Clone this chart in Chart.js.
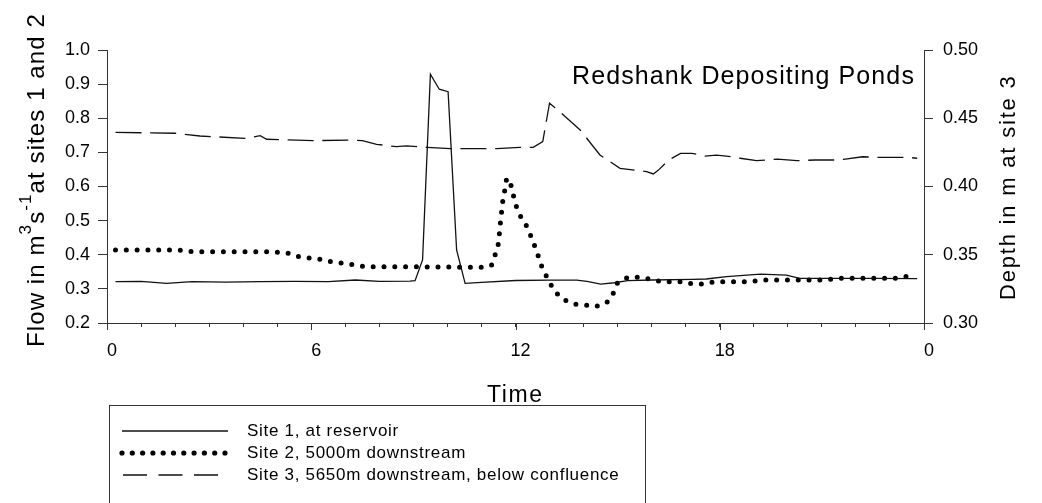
<!DOCTYPE html>
<html>
<head>
<meta charset="utf-8">
<script src="https://cdn.jsdelivr.net/npm/chart.js@4.4.1/dist/chart.umd.min.js"></script>
<style>
  html, body { margin: 0; padding: 0; background: #fff; }
  canvas { display: block; }
</style>
</head>
<body>
<canvas id="c" width="1042" height="503"></canvas>
<script>
// ---------- DATA ----------
const site1Hours = [0.25, 1.0, 1.75, 2.5, 3.5, 4.5, 5.5, 6.5, 7.3, 8.0, 8.9, 9.05, 9.27, 9.5, 9.76, 10.02, 10.27, 10.52, 11.0, 12.0, 13.0, 13.8, 14.1, 14.5, 14.9, 15.3, 16.0, 17.2, 17.6, 18.2, 19.2, 19.96, 20.35, 21.3, 22.5, 23.8];
const site1Flow  = [0.321, 0.322, 0.316, 0.321, 0.320, 0.321, 0.322, 0.321, 0.326, 0.322, 0.323, 0.324, 0.385, 0.929, 0.885, 0.878, 0.414, 0.316, 0.319, 0.3245, 0.3255, 0.3255, 0.322, 0.314, 0.318, 0.324, 0.326, 0.328, 0.329, 0.336, 0.343, 0.3405, 0.331, 0.331, 0.331, 0.330];

const site2Hours = [0.25, 2.1, 2.5, 4.8, 5.34, 5.65, 5.97, 6.3, 6.6, 6.95, 7.25, 7.6, 8.5, 11.1, 11.3, 11.4, 11.5, 11.56, 11.63, 11.69, 11.74, 11.84, 11.92, 11.99, 12.11, 12.31, 12.45, 12.57, 12.69, 12.8, 12.96, 13.13, 13.4, 13.72, 14.03, 14.36, 14.68, 14.87, 15.0, 15.31, 15.6, 15.97, 16.3, 16.9, 17.22, 17.5, 17.86, 18.8, 19.13, 19.4, 21.0, 21.6, 23.2, 23.59];
const site2Flow  = [0.414, 0.414, 0.409, 0.409, 0.404, 0.394, 0.390, 0.386, 0.379, 0.375, 0.371, 0.365, 0.365, 0.363, 0.370, 0.399, 0.433, 0.497, 0.560, 0.592, 0.624, 0.614, 0.582, 0.551, 0.519, 0.487, 0.455, 0.424, 0.390, 0.357, 0.328, 0.295, 0.2695, 0.2557, 0.2527, 0.248, 0.2595, 0.287, 0.319, 0.334, 0.334, 0.328, 0.321, 0.321, 0.314, 0.314, 0.321, 0.321, 0.324, 0.326, 0.326, 0.331, 0.331, 0.339];

const site3Hours = [0.25, 2.0, 2.73, 4.05, 4.5, 4.69, 6.06, 7.08, 7.5, 7.92, 8.5, 8.8, 9.4, 10.08, 11.45, 12.13, 12.52, 12.8, 13.0, 13.3, 13.9, 14.48, 15.07, 15.85, 16.05, 16.2, 16.5, 16.85, 17.18, 17.57, 17.9, 18.2, 18.6, 19.08, 19.7, 20.26, 20.8, 21.4, 21.63, 22.2, 22.6, 23.5, 23.8];
const site3Depth = [0.4397, 0.439, 0.437, 0.4353, 0.4372, 0.4346, 0.4336, 0.434, 0.4336, 0.4309, 0.4292, 0.4297, 0.4287, 0.4277, 0.4277, 0.4287, 0.4287, 0.4329, 0.461, 0.4548, 0.4414, 0.4231, 0.4133, 0.4109, 0.4092, 0.412, 0.4194, 0.4243, 0.4243, 0.4223, 0.423, 0.4223, 0.4207, 0.4189, 0.4201, 0.4189, 0.4194, 0.4194, 0.4199, 0.4218, 0.4214, 0.4214, 0.4207];

const seriesLabels = ['Site 1, at reservoir', 'Site 2, 5000m downstream', 'Site 3, 5650m downstream, below confluence'];

const xTicks = [0,1,2,3,4,5,6,7,8,9,10,11,12,13,14,15,16,17,18,19,20,21,22,23,24];
const xMajorTicks = [0, 6, 12, 18, 24];
const xMajorLabels = ['0', '6', '12', '18', '0'];
const leftTicks = [0.2, 0.3, 0.4, 0.5, 0.6, 0.7, 0.8, 0.9, 1.0];
const leftTickLabels = ['0.2', '0.3', '0.4', '0.5', '0.6', '0.7', '0.8', '0.9', '1.0'];
const rightTicks = [0.30, 0.35, 0.40, 0.45, 0.50];
const rightTickLabels = ['0.30', '0.35', '0.40', '0.45', '0.50'];

const chartTitle = 'Redshank Depositing Ponds';
const xTitle = 'Time';
const rightTitle = 'Depth in m at site 3';
// left title with superscripts: [text, isSuperscript]
const leftTitleParts = [['Flow in m', false], ['3', true], ['s', false], ['-1', true], ['at sites 1 and 2', false]];

// ---------- STYLE ----------
const FONT = '"Liberation Sans", Arial, Helvetica, sans-serif';
const AXIS = '#333';

const pts = (xs, ys) => xs.map((h, i) => ({ x: h, y: ys[i] }));

const decorPlugin = {
  id: 'decor',
  afterDraw(chart) {
    const ctx = chart.ctx;
    const xs = chart.scales.x;
    const ca = chart.chartArea;
    ctx.save();
    // longer major ticks on x axis
    ctx.strokeStyle = AXIS; ctx.lineWidth = 1;
    xMajorTicks.forEach(v => {
      const px = Math.round(xs.getPixelForValue(v)) + 0.5;
      ctx.beginPath(); ctx.moveTo(px, ca.bottom); ctx.lineTo(px, ca.bottom + 7); ctx.stroke();
    });

    ctx.fillStyle = '#000';
    ctx.textAlign = 'left';
    ctx.textBaseline = 'alphabetic';

    // chart title inside plot
    ctx.font = '25px ' + FONT;
    ctx.letterSpacing = '1.1px';
    ctx.fillText(chartTitle, 572, 84);

    // x title
    ctx.font = '23px ' + FONT;
    ctx.letterSpacing = '1.6px';
    ctx.fillText(xTitle, 487, 402);

    // right title
    ctx.save();
    ctx.translate(1015, 300); ctx.rotate(-Math.PI / 2);
    ctx.font = '22px ' + FONT;
    ctx.letterSpacing = '1.8px';
    ctx.fillText(rightTitle, 0, 0);
    ctx.restore();

    // left title with superscripts
    ctx.save();
    ctx.translate(43.5, 347); ctx.rotate(-Math.PI / 2);
    ctx.letterSpacing = '1.1px';
    let cx = 0;
    leftTitleParts.forEach(([t, sup]) => {
      ctx.font = (sup ? '17px ' : '24px ') + FONT;
      ctx.fillText(t, cx, sup ? -13 : 0);
      cx += ctx.measureText(t).width;
    });
    ctx.restore();

    // legend box
    ctx.letterSpacing = '0px';
    ctx.strokeStyle = AXIS; ctx.lineWidth = 1;
    ctx.strokeRect(109.5, 405.5, 536, 120);
    const ds = chart.data.datasets;
    const rows = [431, 453, 475];
    const samples = [
      { x0: 122, x1: 228, dash: [], w: 1.3, cap: 'butt' },
      { x0: 122, x1: 225.5, dash: [0, 10.3], w: 5.2, cap: 'round' },
      { x0: 123, x1: 218, dash: [24, 11.5], w: 1.3, cap: 'butt' }
    ];
    samples.forEach((s, i) => {
      ctx.save();
      ctx.strokeStyle = ds[i].borderColor;
      ctx.lineWidth = s.w; ctx.lineCap = s.cap; ctx.setLineDash(s.dash);
      ctx.beginPath(); ctx.moveTo(s.x0, rows[i]); ctx.lineTo(s.x1, rows[i]); ctx.stroke();
      ctx.restore();
    });
    ctx.font = '17px ' + FONT;
    ctx.letterSpacing = '0.7px';
    ctx.textBaseline = 'middle';
    ctx.fillStyle = '#000';
    seriesLabels.forEach((t, i) => ctx.fillText(t, 247, rows[i] + 0.5));
    ctx.restore();
  }
};

new Chart(document.getElementById('c'), {
  type: 'line',
  data: {
    datasets: [
      { label: seriesLabels[0], data: pts(site1Hours, site1Flow), yAxisID: 'y',
        borderColor: '#111', borderWidth: 1.3, pointRadius: 0, tension: 0, fill: false },
      { label: seriesLabels[1], data: pts(site2Hours, site2Flow), yAxisID: 'y',
        borderColor: '#000', borderWidth: 5, borderDash: [0, 10.8], borderCapStyle: 'round',
        pointRadius: 0, tension: 0, fill: false },
      { label: seriesLabels[2], data: pts(site3Hours, site3Depth), yAxisID: 'y2',
        borderColor: '#111', borderWidth: 1.3, borderDash: [26, 8.7],
        pointRadius: 0, tension: 0, fill: false }
    ]
  },
  options: {
    responsive: false,
    animation: false,
    events: [],
    layout: { padding: { top: 50, left: 0, right: 0, bottom: 0 } },
    plugins: { legend: { display: false }, tooltip: { enabled: false }, title: { display: false } },
    scales: {
      x: {
        type: 'linear', position: 'bottom', min: 0, max: 24,
        afterBuildTicks: s => { s.ticks = xTicks.map(v => ({ value: v })); },
        ticks: {
          autoSkip: false, maxRotation: 0, minRotation: 0, labelOffset: 5, padding: 13,
          color: '#000', font: { family: FONT, size: 18 },
          callback: (v) => { const k = xMajorTicks.indexOf(v); return k >= 0 ? xMajorLabels[k] : ''; }
        },
        grid: { drawOnChartArea: false, drawTicks: true, tickLength: 4, color: AXIS, tickColor: AXIS },
        border: { display: true, color: AXIS, width: 1 },
        afterFit: s => { s.height = 180; }
      },
      y: {
        type: 'linear', position: 'left', min: 0.2, max: 1.0,
        afterBuildTicks: s => { s.ticks = leftTicks.map(v => ({ value: v })); },
        ticks: {
          padding: 8, color: '#000', font: { family: FONT, size: 18 },
          callback: (v) => { const k = leftTicks.findIndex(t => Math.abs(t - v) < 1e-6); return k >= 0 ? leftTickLabels[k] : ''; }
        },
        grid: { drawOnChartArea: false, drawTicks: true, tickLength: 9, color: AXIS, tickColor: AXIS },
        border: { display: true, color: AXIS, width: 1 },
        afterFit: s => { s.width = 107; }
      },
      y2: {
        type: 'linear', position: 'right', min: 0.30, max: 0.50,
        afterBuildTicks: s => { s.ticks = rightTicks.map(v => ({ value: v })); },
        ticks: {
          padding: 10, color: '#000', font: { family: FONT, size: 18 },
          callback: (v) => { const k = rightTicks.findIndex(t => Math.abs(t - v) < 1e-6); return k >= 0 ? rightTickLabels[k] : ''; }
        },
        grid: { drawOnChartArea: false, drawTicks: true, tickLength: 9, color: AXIS, tickColor: AXIS },
        border: { display: true, color: AXIS, width: 1 },
        afterFit: s => { s.width = 118; }
      }
    }
  },
  plugins: [decorPlugin]
});
</script>
</body>
</html>
